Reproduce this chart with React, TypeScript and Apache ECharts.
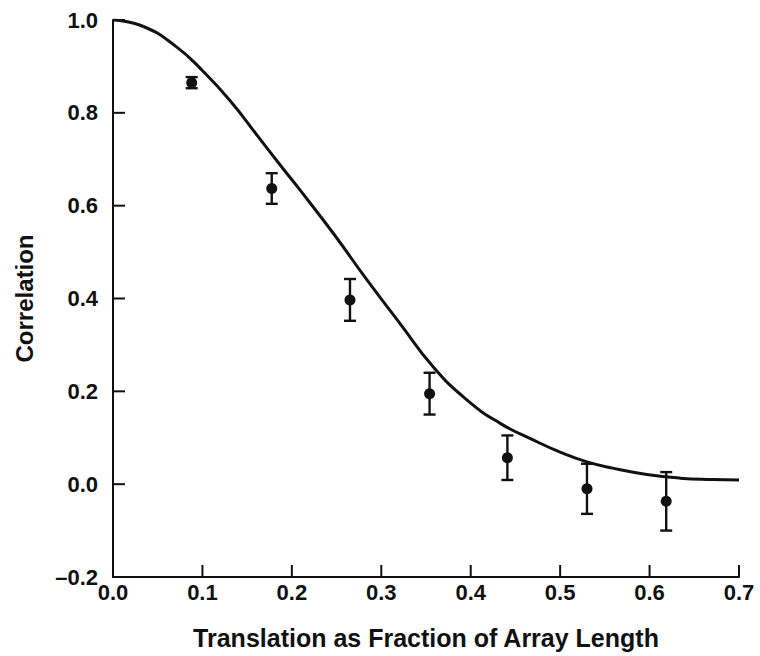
import React, { useEffect, useRef } from "react";
import * as echarts from "echarts";

// Measured data points (translation fraction, correlation, error half-width)
const pointX = [0.088, 0.1775, 0.265, 0.354, 0.441, 0.53, 0.6186];
const pointY = [0.865, 0.637, 0.397, 0.195, 0.057, -0.01, -0.037];
const pointErr = [0.012, 0.033, 0.045, 0.045, 0.048, 0.054, 0.063];

// Theoretical curve
const curveX = [0, 0.034, 0.071, 0.101, 0.131, 0.161, 0.19, 0.209, 0.2465, 0.284, 0.321, 0.358, 0.396, 0.433, 0.468, 0.5, 0.53, 0.56, 0.597, 0.634, 0.67, 0.7];
const curveY = [1.0, 0.986, 0.942, 0.889, 0.826, 0.752, 0.68, 0.634, 0.54, 0.44, 0.346, 0.253, 0.181, 0.131, 0.097, 0.069, 0.048, 0.034, 0.021, 0.013, 0.01, 0.009];

const xTicks = [0, 0.1, 0.2, 0.3, 0.4, 0.5, 0.6, 0.7];
const yTicks = [-0.2, 0, 0.2, 0.4, 0.6, 0.8, 1.0];

const FONT = "'Liberation Sans', Arial, Helvetica, sans-serif";
const INK = "#111";
const TICK_LEN = 12;

export default function App() {
  const ref = useRef<HTMLDivElement>(null);
  useEffect(() => {
    if (!ref.current) return;
    const chart = echarts.init(ref.current, undefined, { renderer: "svg" });
    const xMin = xTicks[0];
    const xMax = xTicks[xTicks.length - 1];
    const yMin = yTicks[0];
    const yMax = yTicks[yTicks.length - 1];
    const curve = curveX.map((x, i) => [x, curveY[i]]);
    const pts = pointX.map((x, i) => [x, pointY[i], pointErr[i]]);
    const tickStyle = { stroke: INK, lineWidth: 2 };
    chart.setOption({
      animation: false,
      backgroundColor: "#fff",
      grid: { left: 113, right: 21, top: 20, bottom: 79 },
      xAxis: {
        type: "value",
        min: xMin,
        max: xMax,
        interval: 0.1,
        name: "Translation as Fraction of Array Length",
        nameLocation: "middle",
        nameGap: 48,
        nameTextStyle: { fontFamily: FONT, fontWeight: "bold", fontSize: 25, color: INK },
        axisLine: { show: true, onZero: false, lineStyle: { color: INK, width: 2 } },
        axisTick: { show: false },
        axisLabel: {
          fontFamily: FONT, fontWeight: "bold", fontSize: 22, color: INK, margin: 4,
          formatter: (v: number) => v.toFixed(1),
        },
        splitLine: { show: false },
      },
      yAxis: {
        type: "value",
        min: yMin,
        max: yMax,
        interval: 0.2,
        name: "Correlation",
        nameLocation: "middle",
        nameGap: 77,
        nameRotate: 90,
        nameTextStyle: { fontFamily: FONT, fontWeight: "bold", fontSize: 24, color: INK },
        axisLine: { show: true, onZero: false, lineStyle: { color: INK, width: 2 } },
        axisTick: { show: false },
        axisLabel: {
          fontFamily: FONT, fontWeight: "bold", fontSize: 22, color: INK, margin: 15,
          formatter: (v: number) => (v < 0 ? "\u2013" + Math.abs(v).toFixed(1) : v.toFixed(1)),
        },
        splitLine: { show: false },
      },
      series: [
        {
          type: "custom",
          name: "xticks",
          silent: true,
          data: xTicks.filter((v) => v > xMin).map((v) => [v, yMin]),
          renderItem: (params: any, api: any) => {
            const c = api.coord([api.value(0), api.value(1)]);
            return { type: "line", shape: { x1: c[0], y1: c[1], x2: c[0], y2: c[1] - TICK_LEN }, style: tickStyle };
          },
          z: 2,
        },
        {
          type: "custom",
          name: "yticks",
          silent: true,
          data: yTicks.filter((v) => v > yMin).map((v) => [xMin, v]),
          renderItem: (params: any, api: any) => {
            const c = api.coord([api.value(0), api.value(1)]);
            return { type: "line", shape: { x1: c[0], y1: c[1], x2: c[0] + TICK_LEN, y2: c[1] }, style: tickStyle };
          },
          z: 2,
        },
        {
          type: "line",
          data: curve,
          smooth: 0.5,
          showSymbol: false,
          lineStyle: { color: INK, width: 3 },
          z: 3,
        },
        {
          type: "custom",
          data: pts,
          z: 4,
          renderItem: (params: any, api: any) => {
            const x = api.value(0);
            const y = api.value(1);
            const e = api.value(2);
            const c = api.coord([x, y]);
            const top = api.coord([x, y + e]);
            const bot = api.coord([x, y - e]);
            const hw = 6;
            const st = { stroke: INK, lineWidth: 2.4 };
            return {
              type: "group",
              children: [
                { type: "line", shape: { x1: c[0], y1: top[1], x2: c[0], y2: bot[1] }, style: st },
                { type: "line", shape: { x1: c[0] - hw, y1: top[1], x2: c[0] + hw, y2: top[1] }, style: st },
                { type: "line", shape: { x1: c[0] - hw, y1: bot[1], x2: c[0] + hw, y2: bot[1] }, style: st },
                { type: "circle", shape: { cx: c[0], cy: c[1], r: 5.5 }, style: { fill: INK } },
              ],
            };
          },
        },
      ],
    });
    return () => chart.dispose();
  }, []);
  return (
    <div
      ref={ref}
      style={{ position: "absolute", left: 0, top: 0, width: 760, height: 656 }}
    />
  );
}
